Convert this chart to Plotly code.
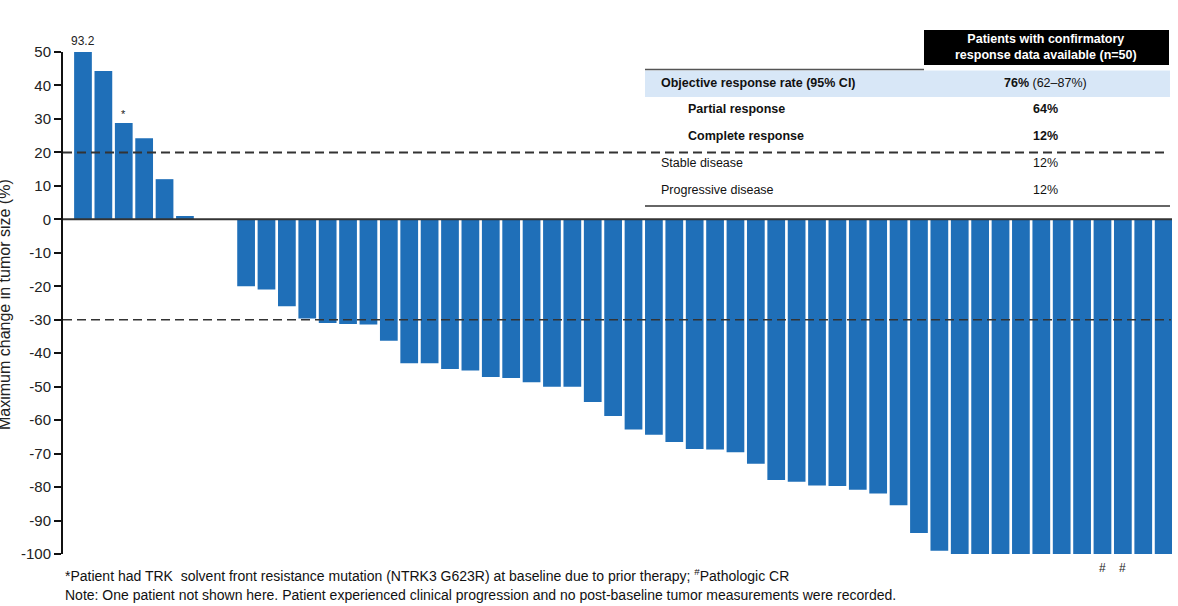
import numpy as np
import plotly.graph_objects as go

# Best percent change from baseline in tumor size, one bar per patient (sorted)
change = [
    93.2, 44.3, 28.8, 24.2, 12.0, 1.0, 0.0, 0.0,
    -20.0, -21.0, -26.0, -29.6, -31.0, -31.3, -31.4, -36.3,
    -43.0, -43.0, -44.7, -45.2, -47.1, -47.4, -48.7, -50.0,
    -50.0, -54.6, -58.8, -62.8, -64.4, -66.5, -68.6, -68.8,
    -69.6, -73.0, -77.9, -78.4, -79.5, -79.7, -80.8, -81.9,
    -85.4, -93.7, -99.0, -100.0, -100.0, -100.0, -100.0, -100.0,
    -100.0, -100.0, -100.0, -100.0, -100.0, -100.0,
]
# Per-bar markers: "*" resistance mutation, "#" pathologic CR
marker_above = {2: "*"}
marker_below = {50: "#", 51: "#"}

y_ticks = [50, 40, 30, 20, 10, 0, -10, -20, -30, -40, -50, -60, -70, -80, -90, -100]
thresholds = [20, -30]

# Response summary table
table_header = "Patients with confirmatory<br>response data available (n=50)"
row_labels = ["Objective response rate (95% CI)", "Partial response", "Complete response",
              "Stable disease", "Progressive disease"]
row_values = ["<b>76%</b> (62\u201387%)", "<b>64%</b>", "<b>12%</b>", "12%", "12%"]
row_bold = [True, True, True, False, False]
row_indent = [0, 1, 1, 0, 0]

footnotes = [
    "*Patient had TRK  solvent front resistance mutation (NTRK3 G623R) at baseline due to prior therapy; <sup>#</sup>Pathologic CR",
    "Note: One patient not shown here. Patient experienced clinical progression and no post-baseline tumor measurements were recorded.",
]

W, H = 1178, 606
ML, MR, MT, MB = 63, 6, 52, 52
PW, PH = W - ML - MR, H - MT - MB

def px(x):
    return (x - ML) / PW

def py(y):
    return (H - MB - y) / PH

BAR = "#1f6fb8"
FONT = "Liberation Sans, Arial, sans-serif"

x = np.arange(len(change))
fig = go.Figure(go.Bar(x=x, y=change, marker=dict(color=BAR, line=dict(width=0)),
                       hoverinfo="skip"))

shapes = []
annotations = []

# zero line and response thresholds
shapes.append(dict(type="line", xref="paper", yref="y", x0=0, x1=1, y0=0, y1=0,
                   line=dict(color="#333333", width=2), layer="above"))
shapes.append(dict(type="line", xref="paper", yref="y", x0=0, x1=px(1166), y0=thresholds[0], y1=thresholds[0],
                   line=dict(color="#333333", width=2, dash="9px,5px"), layer="above"))
shapes.append(dict(type="line", xref="paper", yref="y", x0=0, x1=px(1171), y0=thresholds[1], y1=thresholds[1],
                   line=dict(color="#333333", width=1.6, dash="9px,5px"), layer="above"))

# value of the clipped first bar
annotations.append(dict(x=0, y=50, xref="x", yref="y", text=f"{change[0]:.1f}", showarrow=False,
                        yanchor="bottom", yshift=2, font=dict(family=FONT, size=12, color="#222")))
for i, s in marker_above.items():
    annotations.append(dict(x=int(x[i]), y=change[i], xref="x", yref="y", text=s, showarrow=False,
                            yanchor="bottom", yshift=1, font=dict(family=FONT, size=11, color="#222")))
for i, s in marker_below.items():
    annotations.append(dict(x=int(x[i]), y=change[i], xref="x", yref="y", text=s, showarrow=False,
                            yanchor="top", yshift=-5, font=dict(family=FONT, size=12, color="#222")))

# table
shapes.append(dict(type="rect", xref="paper", yref="paper", x0=px(924), x1=px(1169), y0=py(65), y1=py(30),
                   fillcolor="black", line=dict(width=0), layer="above"))
shapes.append(dict(type="line", xref="paper", yref="paper", x0=px(645), x1=px(924), y0=py(69.5), y1=py(69.5),
                   line=dict(color="#555555", width=1.5), layer="above"))
shapes.append(dict(type="rect", xref="paper", yref="paper", x0=px(645), x1=px(1170), y0=py(97), y1=py(70.5),
                   fillcolor="#d8e7f7", line=dict(width=0), layer="below"))
shapes.append(dict(type="line", xref="paper", yref="paper", x0=px(645), x1=px(1170), y0=py(206), y1=py(206),
                   line=dict(color="#333333", width=1.5), layer="above"))
annotations.append(dict(x=px(1046), y=py(47), xref="paper", yref="paper", text=f"<b>{table_header}</b>",
                        showarrow=False, xanchor="center", yanchor="middle", align="center",
                        font=dict(family=FONT, size=12.5, color="white")))
row_y = [83, 109, 136, 163, 190]
for lab, val, b, ind, yy in zip(row_labels, row_values, row_bold, row_indent, row_y):
    annotations.append(dict(x=px(659 + 27 * ind), y=py(yy), xref="paper", yref="paper",
                            text=f"<b>{lab}</b>" if b else lab, showarrow=False,
                            xanchor="left", yanchor="middle",
                            font=dict(family=FONT, size=12.5, color="#111")))
    annotations.append(dict(x=px(1045), y=py(yy), xref="paper", yref="paper", text=val, showarrow=False,
                            xanchor="center", yanchor="middle",
                            font=dict(family=FONT, size=12.5, color="#111")))

# axis title
annotations.append(dict(x=px(4), y=py(305), xref="paper", yref="paper",
                        text="Maximum change in tumor size (%)", textangle=-90, showarrow=False,
                        xanchor="center", yanchor="middle", font=dict(family=FONT, size=16, color="#222")))

# footnotes
for k, t in enumerate(footnotes):
    annotations.append(dict(x=px(63), y=py(575 + 20 * k), xref="paper", yref="paper", text=t,
                            showarrow=False, xanchor="left", yanchor="middle",
                            font=dict(family=FONT, size=14, color="#111")))

fig.update_layout(
    width=W, height=H,
    margin=dict(l=ML, r=MR, t=MT, b=MB, autoexpand=False),
    paper_bgcolor="white", plot_bgcolor="white",
    bargap=0.13, showlegend=False,
    shapes=shapes, annotations=annotations,
    xaxis=dict(range=[-0.98, len(change) - 1 + 0.41], visible=False, fixedrange=True),
    yaxis=dict(range=[-100, 50], tickvals=y_ticks, ticktext=[str(v) for v in y_ticks],
               showgrid=False, zeroline=False, showline=True, linecolor="#111", linewidth=2,
               ticks="outside", ticklen=7, tickwidth=2, tickcolor="#111",
               tickfont=dict(family=FONT, size=15, color="#222")),
)

fig.write_html("out.html")
